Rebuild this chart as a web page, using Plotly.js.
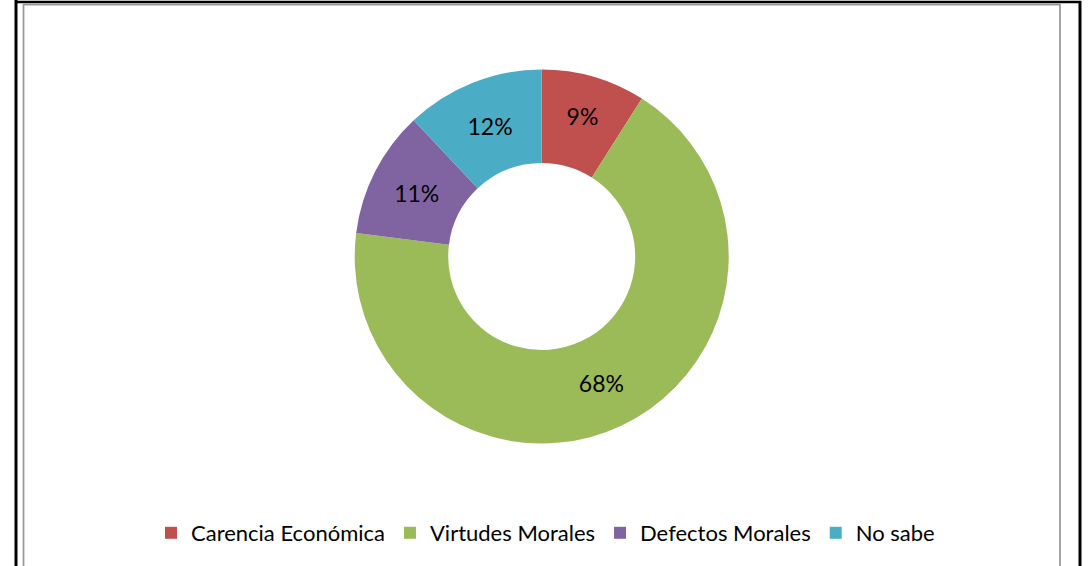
<!DOCTYPE html>
<html>
<head>
<meta charset="utf-8">
<script src="https://cdn.plot.ly/plotly-3.0.1.min.js"></script>
<style>
html,body{margin:0;padding:0;background:#fff;}
#chart{width:1091px;height:566px;}
</style>
</head>
<body>
<div id="chart"></div>
<script>
const categories = ["Carencia Económica", "Virtudes Morales", "Defectos Morales", "No sabe"];
const percentages = [9, 68, 11, 12];
const sliceColors = ["#C0504D", "#9BBB59", "#8064A2", "#4BACC6"];

const W = 1091, H = 566;
const cx = 541.7, cy = 256.5, R = 187;
const px = v => v / W;
const py = v => 1 - v / H;

const data = [{
  type: "pie",
  labels: categories,
  values: percentages,
  hole: 0.5,
  sort: false,
  direction: "clockwise",
  rotation: 0,
  marker: {colors: sliceColors, line: {width: 0}},
  textinfo: "percent",
  texttemplate: "%{value}%",
  textposition: "inside",
  insidetextorientation: "horizontal",
  textfont: {family: "Lato, 'Open Sans', sans-serif", size: 23, color: "#000000"},
  domain: {x: [px(cx - R), px(cx + R)], y: [py(cy + R), py(cy - R)]},
  hoverinfo: "label+percent"
}];

const layout = {
  width: W, height: H,
  margin: {l: 0, r: 0, t: 0, b: 0},
  paper_bgcolor: "#ffffff",
  showlegend: true,
  legend: {
    orientation: "h",
    x: 0.5, xanchor: "center",
    y: py(533), yanchor: "middle",
    font: {family: "Lato, 'Open Sans', sans-serif", size: 22, color: "#000000"},
    itemclick: false
  },
  shapes: [
    {type: "line", xref: "paper", yref: "paper", x0: px(16), x1: px(16), y0: 0, y1: 1, line: {color: "#000", width: 3}},
    {type: "line", xref: "paper", yref: "paper", x0: px(16), x1: px(1081), y0: py(2), y1: py(2), line: {color: "#000", width: 2.5}},
    {type: "line", xref: "paper", yref: "paper", x0: px(1080), x1: px(1080), y0: 0, y1: py(1), line: {color: "#000", width: 3}},
    {type: "line", xref: "paper", yref: "paper", x0: px(23.5), x1: px(23.5), y0: 0, y1: py(4), line: {color: "#999999", width: 1.8}},
    {type: "line", xref: "paper", yref: "paper", x0: px(23.5), x1: px(1060), y0: py(4.5), y1: py(4.5), line: {color: "#999999", width: 1.8}},
    {type: "line", xref: "paper", yref: "paper", x0: px(1060), x1: px(1060), y0: 0, y1: py(4), line: {color: "#999999", width: 1.8}}
  ]
};

Plotly.newPlot("chart", data, layout, {displayModeBar: false, staticPlot: true});
</script>
</body>
</html>
